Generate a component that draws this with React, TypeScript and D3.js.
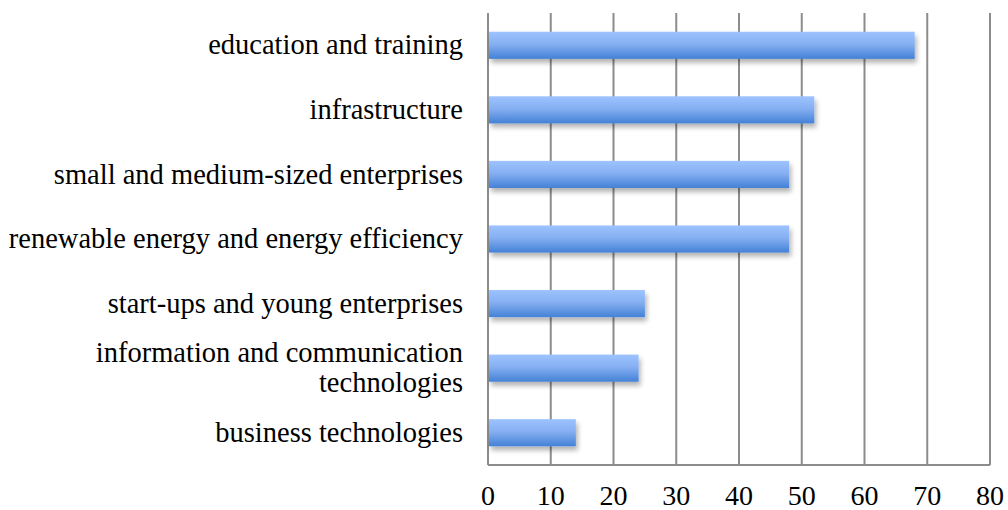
import React from "react";
import * as d3 from "d3";

const categories = [
  "education and training",
  "infrastructure",
  "small and medium-sized enterprises",
  "renewable energy and energy efficiency",
  "start-ups and young enterprises",
  "information and communication technologies",
  "business technologies",
];
const values = [68, 52, 48, 48, 25, 24, 14];
const xTicks = [0, 10, 20, 30, 40, 50, 60, 70, 80];
const labelLines: Record<string, string[]> = {
  "information and communication technologies": ["information and communication", "technologies"],
};

const W = 1008, H = 510;
const left = 488, right = 990, top = 13, bottom = 465;
const FONT = "'Liberation Serif', serif";

export default function App() {
  const x = d3.scaleLinear().domain([0, 80]).range([left, right]);
  const y = d3.scaleBand<string>().domain(categories).range([top, bottom]).paddingInner(0.58).paddingOuter(0.29);
  const bh = y.bandwidth();
  return (
    <svg width={W} height={H} style={{ position: "absolute", left: 0, top: 0 }}>
      <defs>
        <linearGradient id="barGrad" x1="0" y1="0" x2="0" y2="1">
          <stop offset="0%" stopColor="#9dc3ff" />
          <stop offset="45%" stopColor="#86b0f2" />
          <stop offset="100%" stopColor="#4481d6" />
        </linearGradient>
        <filter id="shadow" x="-10%" y="-30%" width="120%" height="180%">
          <feGaussianBlur in="SourceAlpha" stdDeviation="2.5" />
          <feOffset dx="2" dy="4" result="b" />
          <feComponentTransfer><feFuncA type="linear" slope="0.3" /></feComponentTransfer>
          <feMerge><feMergeNode /><feMergeNode in="SourceGraphic" /></feMerge>
        </filter>
      </defs>
      <rect width={W} height={H} fill="#fff" />
      {xTicks.map((t) => (
        <line key={t} x1={x(t)} x2={x(t)} y1={top} y2={bottom} stroke="#8c8c8c" strokeWidth={2} />
      ))}
      <line x1={left} x2={right} y1={bottom} y2={bottom} stroke="#8c8c8c" strokeWidth={2} />
      {categories.map((c, i) => (
        <rect key={c} x={x(0) + 1} y={y(c)!} width={x(values[i]) - x(0) - 1} height={bh} fill="url(#barGrad)" filter="url(#shadow)" />
      ))}
      {categories.map((c) => {
        const lines = labelLines[c] || [c];
        const cy = y(c)! + bh / 2;
        const lh = 30;
        return (
          <text key={c} x={463} textAnchor="end" fontFamily={FONT} fontSize={28.5} fill="#000">
            {lines.map((l, j) => (
              <tspan key={j} x={463} y={cy + (j - (lines.length - 1) / 2) * lh} dy="0.32em">{l}</tspan>
            ))}
          </text>
        );
      })}
      {xTicks.map((t) => (
        <text key={t} x={x(t)} y={505} textAnchor="middle" fontFamily={FONT} fontSize={28} fill="#000">{t}</text>
      ))}
    </svg>
  );
}
